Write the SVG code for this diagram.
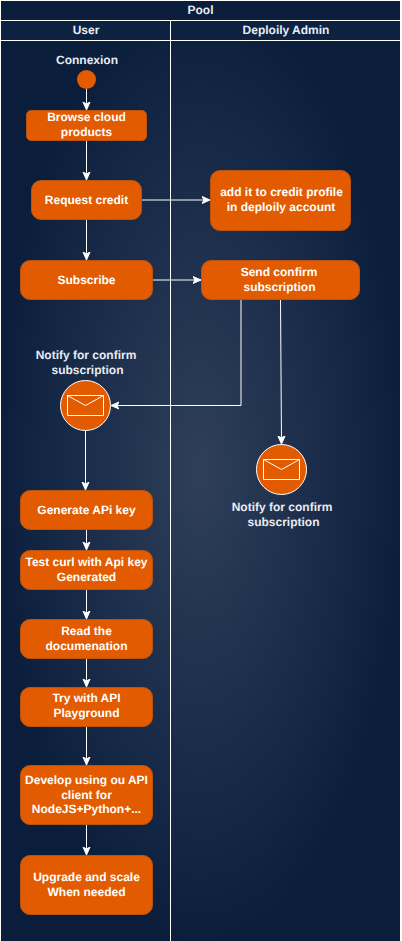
<svg xmlns="http://www.w3.org/2000/svg" width="402" height="941" viewBox="0 0 402 941">
<style>
text{font-family:"Liberation Sans",Arial,sans-serif;font-size:12px;font-weight:bold;text-anchor:middle;fill:#fff;text-rendering:geometricPrecision}
.lab{fill:#e8ecf2}
.n{fill:#e35b00;stroke:#b9530f;stroke-width:1}
.c{fill:#e35b00;stroke:#fff;stroke-width:1}
.env{fill:none;stroke:#fff;stroke-width:1}
.e{fill:none;stroke:#fff;stroke-width:1;marker-end:url(#a)}
.l{stroke:#fff;stroke-width:1;fill:none}
</style>
<defs>
<radialGradient id="g" gradientUnits="userSpaceOnUse" cx="200.5" cy="470" r="1" gradientTransform="translate(200.5 470) scale(205 480) translate(-200.5 -470)">
<stop offset="0" stop-color="#2f3f5b"/><stop offset="1" stop-color="#0a1e3c"/>
</radialGradient>
<marker id="a" markerUnits="userSpaceOnUse" markerWidth="10" markerHeight="10" refX="8" refY="4.5" orient="auto">
<path d="M0 1L8 4.5L0 8L2 4.5Z" fill="#fff" stroke="#fff" stroke-width="1"/>
</marker>
</defs>
<g id="pool">
<rect width="402" height="941" fill="#fff"/>
<rect x="1" y="1" width="399" height="940" fill="url(#g)"/>
<rect x="1" y="1" width="399" height="19.500" fill="#0a1e3c"/>
<rect x="1" y="21" width="399" height="19.500" fill="#0d2140"/>
<path class="l" d="M1 20.500H400M1 40.500H400M170.500 20V941"/>
<text class="lab" x="200.500" y="14">Pool</text>
<text class="lab" x="86" y="34">User</text>
<text class="lab" x="286" y="34">Deploily Admin</text>
</g>
<g id="connectors">
<path class="e" d="M86.500 89V110"/>
<path class="e" d="M86.500 140.500V180"/>
<path class="e" d="M86.500 220V260"/>
<path class="e" d="M142 200H210"/>
<path class="e" d="M152.500 280H201"/>
<path class="e" d="M241 300V405.500H111"/>
<path class="e" d="M280.500 300L281.500 444"/>
<path class="e" d="M85.500 430.500V490"/>
<path class="e" d="M86.500 530V550"/>
<path class="e" d="M86.500 590V619"/>
<path class="e" d="M86.500 659V687"/>
<path class="e" d="M86.500 727V765"/>
<path class="e" d="M86.500 825V855"/>
</g>
<g id="start"><circle cx="86.500" cy="79.500" r="9.500" fill="#e35b00"/><text class="lab" x="87" y="64">Connexion</text></g>
<g id="browse"><rect class="n" x="26.500" y="110.500" width="120" height="30" rx="4.500"/><text x="86.500" y="121">Browse cloud</text><text x="86.500" y="136">products</text></g>
<g id="request"><rect class="n" x="31.500" y="180.500" width="110" height="39" rx="9.500"/><text x="86.500" y="204">Request credit</text></g>
<g id="addcredit"><rect class="n" x="210.500" y="170.500" width="140" height="60" rx="9.500"/><text x="281.500" y="196">add it to credit profile</text><text x="281" y="211">in deploily account</text></g>
<g id="subscribe"><rect class="n" x="20.500" y="260.500" width="132" height="39" rx="9.500"/><text x="86.500" y="284">Subscribe</text></g>
<g id="send"><rect class="n" x="201.500" y="260.500" width="158" height="39" rx="9.500"/><text x="279" y="276">Send confirm</text><text x="279.500" y="291">subscription</text></g>
<g id="notify-user">
<text class="lab" x="86" y="359">Notify for confirm</text><text class="lab" x="87.500" y="374">subscription</text>
<circle class="c" cx="85.500" cy="405.500" r="25"/><path class="env" d="M67.500 395.500H103.500V415.500H67.500ZM67.500 395.500L85.500 405.500L103.500 395.500"/>
</g>
<g id="notify-admin">
<circle class="c" cx="281.500" cy="469.500" r="25"/><path class="env" d="M263.500 459.500H299.500V479.500H263.500ZM263.500 459.500L281.500 469.500L299.500 459.500"/>
<text class="lab" x="282" y="511">Notify for confirm</text><text class="lab" x="283.500" y="526">subscription</text>
</g>
<g id="generate"><rect class="n" x="20.500" y="490.500" width="132" height="39" rx="9.500"/><text x="86.500" y="514">Generate APi key</text></g>
<g id="testcurl"><rect class="n" x="20.500" y="550.500" width="132" height="39" rx="9.500"/><text x="86.500" y="566">Test curl with Api key</text><text x="86.500" y="581">Generated</text></g>
<g id="read"><rect class="n" x="20.500" y="619.500" width="132" height="39" rx="9.500"/><text x="86.500" y="635">Read the</text><text x="86.500" y="650">documenation</text></g>
<g id="try"><rect class="n" x="20.500" y="687.500" width="132" height="39" rx="9.500"/><text x="86.500" y="702">Try with API</text><text x="86.500" y="717">Playground</text></g>
<g id="develop"><rect class="n" x="20.500" y="765.500" width="132" height="59" rx="9.500"/><text x="86.500" y="784">Develop using ou API</text><text x="86.500" y="799">client for</text><text x="86.500" y="813">NodeJS+Python+...</text></g>
<g id="upgrade"><rect class="n" x="20.500" y="855.500" width="132" height="59" rx="9.500"/><text x="86.500" y="881">Upgrade and scale</text><text x="86.500" y="896">When needed</text></g>
</svg>
